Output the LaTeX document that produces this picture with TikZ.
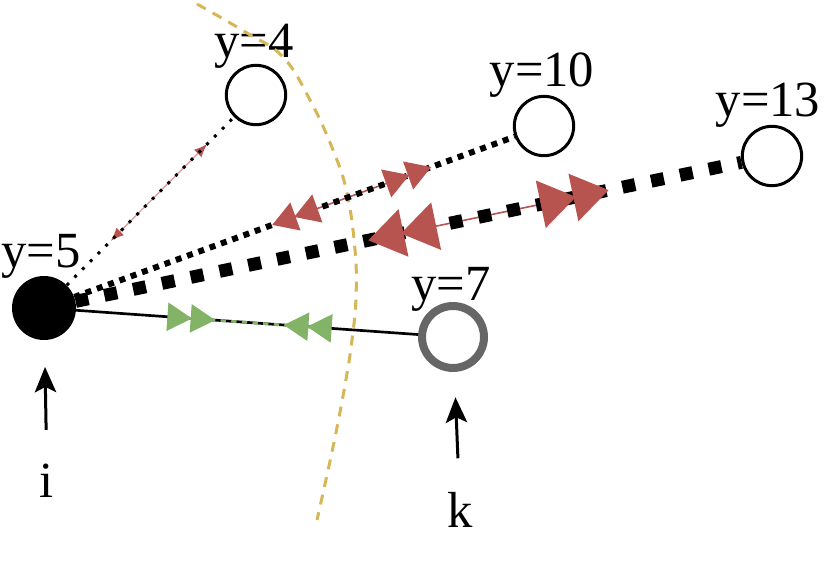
\documentclass[tikz,border=0pt]{standalone}
\usepackage{fontspec}
\setmainfont{Liberation Serif}
\usepackage{tikz}
\usepackage{xcolor}
\usetikzlibrary{arrows.meta,calc,positioning}
\definecolor{repred}{HTML}{B85450}
\definecolor{attgreen}{HTML}{82B366}
\definecolor{cutgold}{HTML}{D6B656}
\definecolor{kgray}{HTML}{666666}

\begin{document}
\begin{tikzpicture}[x=0.75pt,y=-0.75pt,
  vtx/.style={circle,draw,line width=2.25pt,minimum size=44.5pt,inner sep=0pt},
  lbl/.style={anchor=base,inner sep=0pt,font=\fontsize{38}{44}\selectfont},
  ptr/.style={-{Stealth[length=19pt,width=16pt,inset=4pt]},line width=2.25pt},
  tipsonly/.style={dash pattern=on 0pt off 2000pt},
  bigtip/.tip={Triangle[length=27pt,width=36pt,sep=-2pt]},
  smalltip/.tip={Triangle[length=18.5pt,width=22pt,sep=-1pt]},
  intip/.tip={Triangle[reversed,length=18.5pt,width=21pt,sep=-1pt]}]
  \useasboundingbox (0,0) rectangle (831,574);
  \node[circle,fill,minimum size=48pt,inner sep=0pt] (i) at (44,308) {};
  \node[vtx] (y4) at (256,95) {};
  \node[vtx] (y10) at (544,126) {};
  \node[vtx] (y13) at (772,156) {};
  \node[vtx,draw=kgray,line width=6pt,minimum size=46.5pt] (k) at (453,337) {};
  \node[lbl] (l4) at (254,58) {y=4};
  \node[lbl] (l10) at (542,87) {y=10};
  \node[lbl] (l13) at (768,117) {y=13};
  \node[lbl] (l5) at (41,267) {y=5};
  \node[lbl] (l7) at (451,300) {y=7};
  \node[lbl] (li) at (47,497) {i};
  \node[lbl] (lk) at (460,527) {k};
  \draw[cutgold,line width=2.25pt,dash pattern=on 7.5pt off 6pt] plot[smooth,tension=0.7] coordinates {(197,4) (247,33) (283,57) (310,100) (333,150) (347,193) (355,250) (356,297) (352,340) (345,385) (333,447) (317,520)};
  \draw[repred!55,line width=1pt,{Latex[length=10pt,width=8pt,color=repred]}-{Latex[length=10pt,width=8pt,color=repred]}] ($(i)!0.315!(y4)$) -- ($(i)!0.77!(y4)$);
  \draw[repred,line width=1.2pt] ($(i)!0.459!(y10)$) -- ($(i)!0.772!(y10)$);
  \draw[repred,line width=1.2pt] ($(i)!0.449!(y13)$) -- ($(i)!0.772!(y13)$);
  \draw[line width=2.25pt,dash pattern=on 2.25pt off 6pt] (i) -- (y4);
  \draw[line width=4.5pt,dash pattern=on 4.5pt off 4.5pt] (i) -- (y10);
  \draw[line width=9.75pt,dash pattern=on 9.75pt off 12.3pt] (i) -- (y13);
  \draw[line width=2pt] (i) -- (k);
  \draw[repred,tipsonly,line width=1.5pt,{smalltip[]smalltip[]}-{smalltip[]smalltip[]}] ($(i)!0.459!(y10)$) -- ($(i)!0.772!(y10)$);
  \draw[repred,tipsonly,line width=2pt,{bigtip[]bigtip[]}-{bigtip[]bigtip[]}] ($(i)!0.449!(y13)$) -- ($(i)!0.772!(y13)$);
  \draw[attgreen,line width=2pt,dash pattern=on 4pt off 4pt,{intip[]intip[]}-{intip[]intip[]}] ($(i)!0.305!(k)$) -- ($(i)!0.70!(k)$);
  \draw[ptr,shorten <=25pt,shorten >=20pt] (li) -- (i);
  \draw[ptr,shorten <=25pt,shorten >=19pt] (lk) -- (k);
\end{tikzpicture}
\end{document}
